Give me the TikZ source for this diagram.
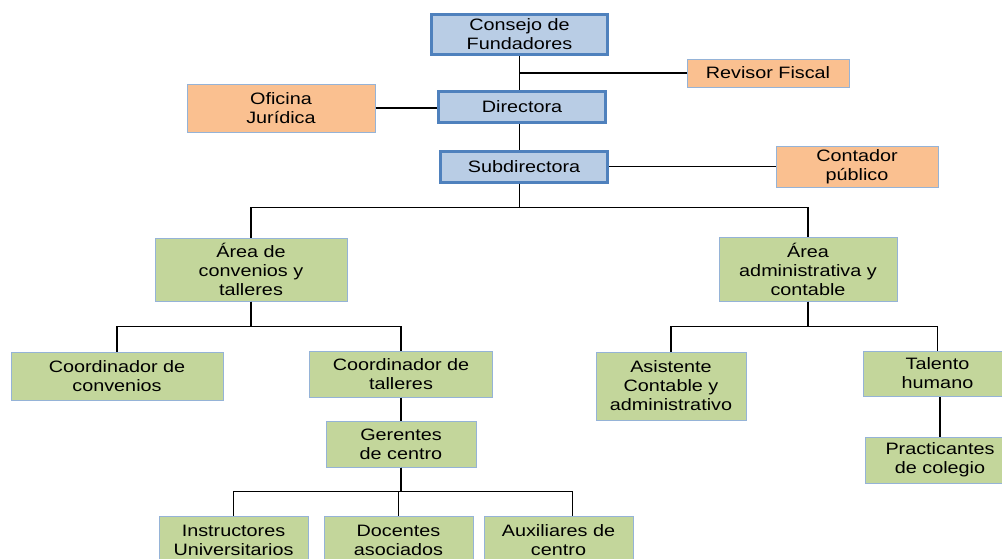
\documentclass[tikz,border=0pt]{standalone}
\usepackage{fontspec}
\setmainfont{Liberation Sans}[FakeStretch=1.2]
\definecolor{jefeblue}{HTML}{B9CDE5}
\definecolor{jefeline}{HTML}{4F81BD}
\definecolor{asesororange}{HTML}{FAC090}
\definecolor{areagreen}{HTML}{C3D69B}
\definecolor{thinline}{HTML}{95B3D7}
\begin{document}
\begin{tikzpicture}
[x=1pt,y=-1pt,
  boxdecorate/.style={shape=rectangle,inner sep=0pt,align=center,font=\fontsize{16.5}{19}\selectfont},
  jefedecorate/.style={boxdecorate,draw=jefeline,fill=jefeblue,line width=3pt},
  asesordecorate/.style={boxdecorate,draw=thinline,fill=asesororange,line width=1pt},
  areadecorate/.style={boxdecorate,draw=thinline,fill=areagreen,line width=1pt},
  linedecorate/.style={-,line width=1.3pt}]
\clip (0,0) rectangle (1002,558);
%% direction
\foreach \nodename/\x/\y/\w/\h/\txt in {consejo/519.5/34.5/176/40/{Consejo de\\Fundadores},
  directora/522/107/167/31/{Directora}, subdir/524/166.5/167/31/{Subdirectora}} {
  \node (\nodename) at (\x,\y) [jefedecorate,minimum width=\w,minimum height=\h] {\txt};
}
%% advisers
\foreach \nodename/\x/\y/\w/\h/\txt in {revisor/768/73/162/28/{Revisor Fiscal},
  oficina/281/108/188/48/{Oficina\\Jurídica}, contador/857/166.5/162/41/{Contador\\público}} {
  \node (\nodename) at (\x,\y) [asesordecorate,minimum width=\w,minimum height=\h] {\txt};
}
%% areas and staff
\foreach \nodename/\x/\y/\w/\h/\txt in {convenios/251/269.5/192/63/{Área de\\convenios y\\talleres},
  admin/808/269/178/64/{Área\\administrativa y\\contable},
  coordconv/117/376/212/48/{Coordinador de\\convenios},
  coordtall/401/374/183/46/{Coordinador de\\talleres},
  gerentes/401/444/150/46/{Gerentes\\de centro},
  instructores/233.5/540/149/48/{Instructores\\Universitarios},
  docentes/398.5/540/149/48/{Docentes\\asociados},
  auxiliares/558.5/540/149/48/{Auxiliares de\\centro},
  asistente/671/386/150/68/{Asistente\\Contable y\\administrativo},
  talento/937.5/373.5/149/45/{Talento\\humano},
  practicantes/940/460/150/46/{Practicantes\\de colegio}} {
  \node (\nodename) at (\x,\y) [areadecorate,minimum width=\w,minimum height=\h] {\txt};
}
%% edges or lines
\draw[linedecorate] (consejo.south) -- (consejo.south |- directora.north);
\draw[linedecorate] (revisor.west) -- (revisor.west -| consejo.south);
\draw[linedecorate] (oficina.east) -- (oficina.east -| directora.west);
\draw[linedecorate] (consejo.south |- directora.south) -- (consejo.south |- subdir.north);
\draw[linedecorate] (contador.west) -- (contador.west -| subdir.east);
\foreach \endnode in {convenios, admin} {
  \draw[linedecorate] (consejo.south |- subdir.south) -- ++(0,24) -| (\endnode.north);
}
\foreach \endnode in {coordconv, coordtall} {
  \draw[linedecorate] (convenios.south) -- ++(0,25) -| (\endnode.north);
}
\foreach \endnode in {asistente, talento} {
  \draw[linedecorate] (admin.south) -- ++(0,25) -| (\endnode.north);
}
\draw[linedecorate] (coordtall.south) -- (gerentes.north);
\draw[linedecorate] (practicantes.north) -- (practicantes.north |- talento.south);
\foreach \endnode in {instructores, docentes} {
  \draw[linedecorate] (gerentes.south) -- ++(0,24) -| (\endnode.north);
}
\draw[linedecorate] (gerentes.south) -- ++(0,24) -| ([xshift=14pt]auxiliares.north);
\end{tikzpicture}
\end{document}
